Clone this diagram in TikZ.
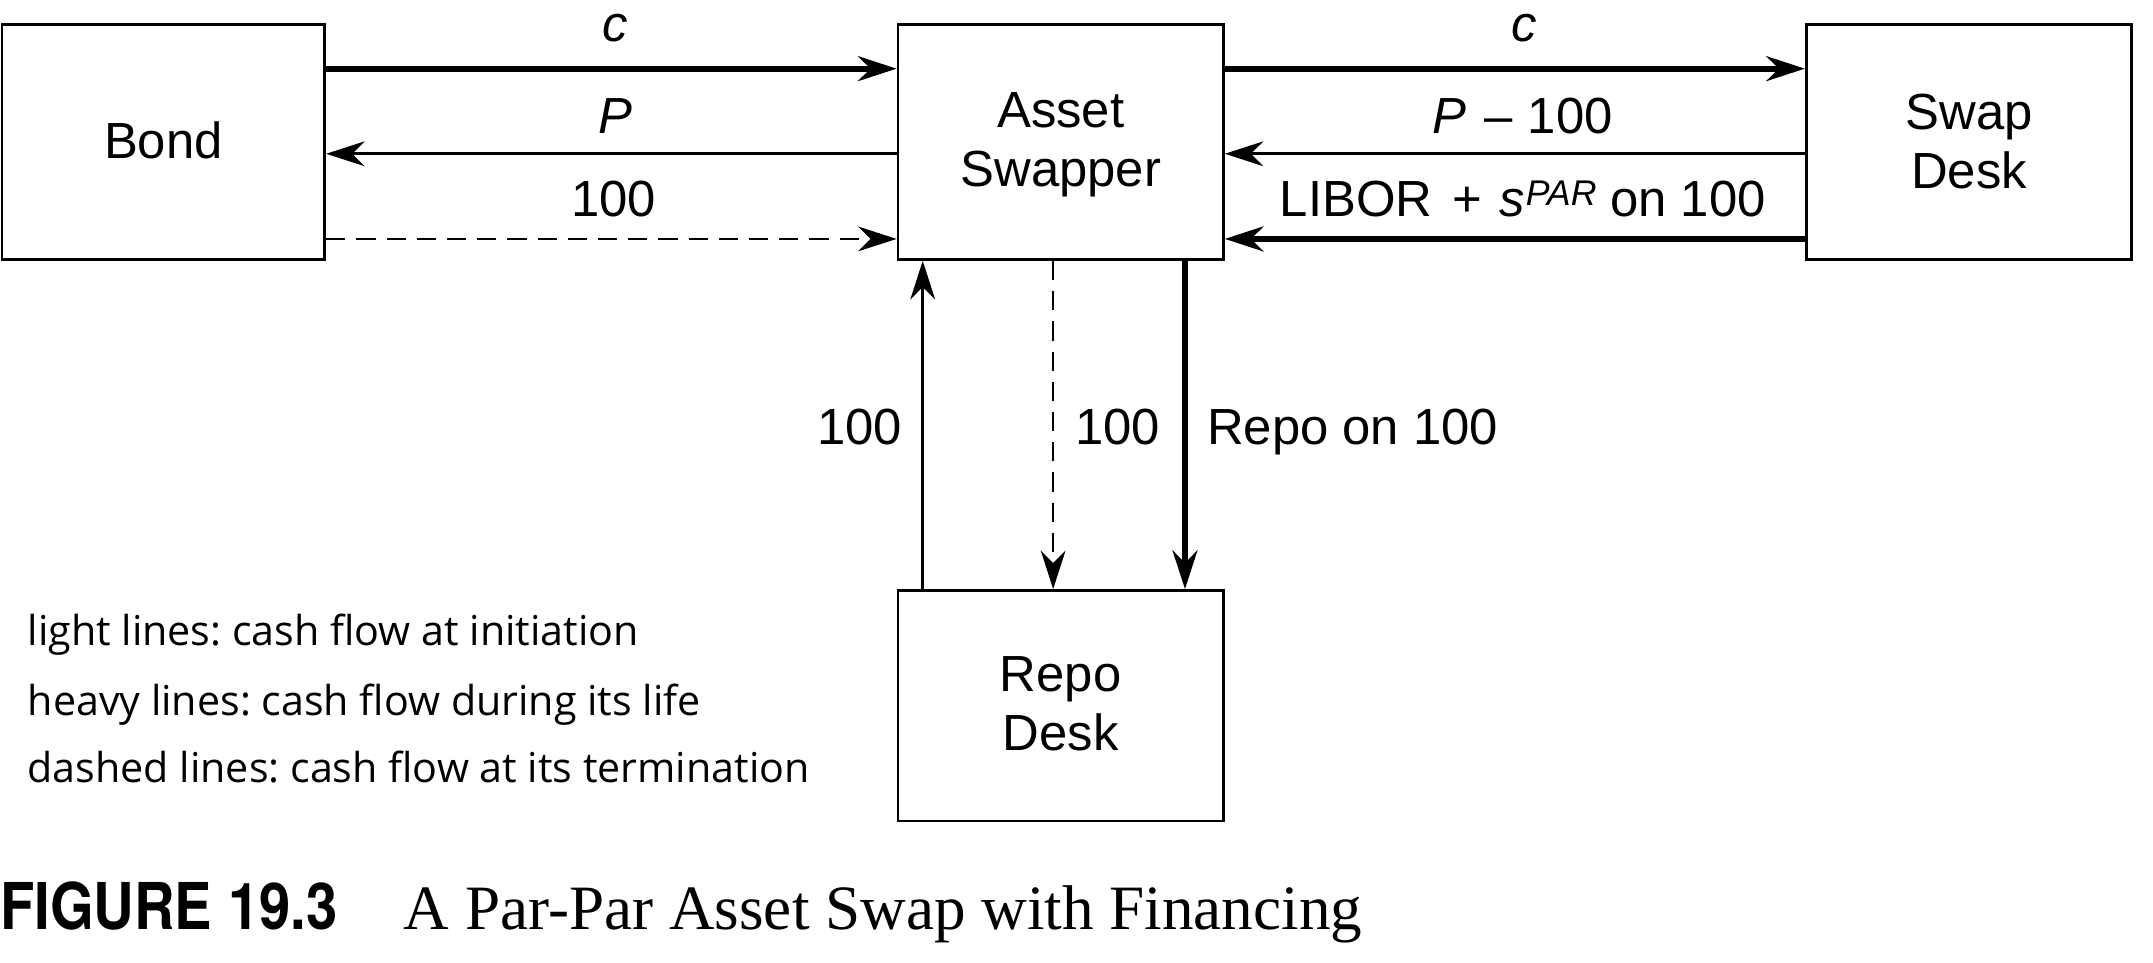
\documentclass[tikz,border=0pt]{standalone}
\usepackage{fontspec}
\usepackage{graphicx}
\setmainfont{Liberation Sans}
\newfontfamily\legendfont{Open Sans}
\newfontfamily\capserif{Liberation Serif}
\newfontfamily\capsans{TeX Gyre Heros}
\usetikzlibrary{arrows.meta}
\frenchspacing
\begin{document}
\begin{tikzpicture}[x=1pt,y=-1pt,
  box/.style={draw, line width=2pt, inner sep=0pt, minimum width=237pt, minimum height=171pt},
  tip/.style={-{Stealth[length=28pt,width=18pt,inset=9pt]}},
  heavy/.style={tip, line width=4.4pt},
  light/.style={tip, line width=2.2pt},
  dashln/.style={tip, line width=1.6pt, dash pattern=on 14pt off 8pt},
  boxtext/.style={anchor=north, inner sep=0pt, align=center, font=\fontsize{37}{43}\selectfont},
  lbl/.style={anchor=base, inner sep=0pt, font=\fontsize{37}{43}\selectfont},
  legend/.style={anchor=base west, inner sep=0pt, font=\legendfont\fontsize{30}{35}\selectfont}]
\useasboundingbox (0,0) rectangle (1568,701.3);
% boxes
\node[box, minimum width=235pt] (bond) at (119,103.5) {};
\node[box] (asset) at (772.5,103.5) {};
\node[box] (swap) at (1434,103.5) {};
\node[box, minimum height=168pt] (repo) at (772.5,514) {};
% box texts
\node[boxtext] (bondtxt) at (119,88.5) {Bond};
\node[boxtext] (assettxt) at (772.5,67.5) {Asset\\Swapper};
\node[boxtext] (swaptxt) at (1434,68) {Swap\\Desk};
\node[boxtext] (repotxt) at (772.5,478) {Repo\\Desk};
% horizontal flows
\draw[heavy] (bond.east |- 0,50) -- (asset.west |- 0,50);
\draw[light] (asset.west |- 0,112) -- (bond.east |- 0,112);
\draw[dashln] (bond.east |- 0,174) -- (asset.west |- 0,174);
\draw[heavy] (asset.east |- 0,50) -- (swap.west |- 0,50);
\draw[light] (swap.west |- 0,112) -- (asset.east |- 0,112);
\draw[heavy] (swap.west |- 0,174) -- (asset.east |- 0,174);
% vertical flows
\draw[light] (repo.north -| 672,0) -- (asset.south -| 672,0);
\draw[dashln] (asset.south -| 767,0) -- (repo.north -| 767,0);
\draw[heavy] (asset.south -| 863,0) -- (repo.north -| 863,0);
% labels
\node[lbl] (c1) at (448,30) {\textit{c}};
\node[lbl] (p1) at (448,97) {\textit{P}};
\node[lbl] (h1) at (447,158) {100};
\node[lbl] (c2) at (1110,30) {\textit{c}};
\node[lbl] (p2) at (1109,97) {\textit{P}\hspace{13pt}–\hspace{11pt}100};
\node[lbl] (lib) at (1109,158) {LIBOR\hspace{15pt}+\hspace{12pt}\textit{s}\hspace{1pt}\raisebox{8pt}{\fontsize{26}{26}\selectfont\itshape PAR}\hspace{10pt}on 100};
\node[lbl, anchor=base east] (v1) at (657,324) {100};
\node[lbl, anchor=base west] (v2) at (783,324) {100};
\node[lbl, anchor=base west] (v3) at (879,324) {Repo on 100};
% legend
\node[legend] (lg1) at (20,470) {light lines: cash flow at initiation};
\node[legend] (lg2) at (20,521) {heavy lines: cash flow during its life};
\node[legend] (lg3) at (20,570) {dashed lines: cash flow at its termination};
% caption
\node[anchor=base west, inner sep=0pt] (figno) at (0,677) {\scalebox{0.87}[1]{\capsans\bfseries\fontsize{47}{50}\selectfont FIGURE 19.3}};
\node[anchor=base west, inner sep=0pt] (figtitle) at (294,677) {\capserif\fontsize{46}{50}\selectfont A Par-Par Asset Swap with Financing};
\end{tikzpicture}
\end{document}
